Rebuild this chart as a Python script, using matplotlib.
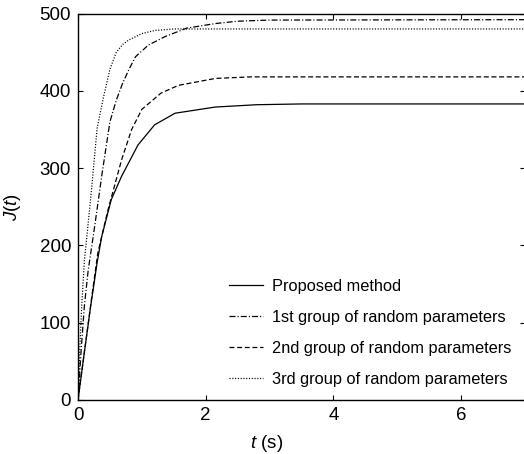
import matplotlib
matplotlib.use("Agg")
import matplotlib.pyplot as plt

# values
t_proposed = [0, 0.1, 0.2, 0.3, 0.37, 0.52, 0.68, 0.94, 1.2, 1.52, 2.15, 2.8, 3.5, 7.0]
j_proposed = [0, 62, 122, 178, 211, 259, 289, 330, 356, 371, 379, 382, 383, 383]

t_group1 = [0, 0.05, 0.1, 0.16, 0.26, 0.37, 0.5, 0.6, 0.7, 0.8, 0.9, 1.1, 1.36, 1.7, 2.15, 2.5, 3.0, 7.0]
j_group1 = [0, 65, 122, 168, 224, 289, 360, 388, 410, 428, 444, 459, 470, 481, 487, 490, 491.5, 492]

t_group2 = [0, 0.1, 0.2, 0.31, 0.47, 0.68, 0.84, 1.0, 1.3, 1.57, 2.15, 2.7, 3.5, 7.0]
j_group2 = [0, 62, 124, 190, 246, 310, 350, 376, 397, 407, 416, 418, 418, 418]

t_group3 = [0, 0.03, 0.06, 0.1, 0.2, 0.3, 0.4, 0.5, 0.6, 0.7, 0.8, 1.0, 1.2, 1.5, 2.0, 7.0]
j_group3 = [0, 70, 125, 180, 262, 352, 392, 428, 450, 460, 466, 474, 478, 480, 480, 480]

labels = [
    "Proposed method",
    "1st group of random parameters",
    "2nd group of random parameters",
    "3rd group of random parameters",
]

plt.rcParams["font.family"] = ["Liberation Sans", "DejaVu Sans"]
plt.rcParams["mathtext.fontset"] = "custom"
plt.rcParams["mathtext.it"] = "Liberation Sans:italic"
plt.rcParams["mathtext.rm"] = "Liberation Sans"
plt.rcParams["lines.scale_dashes"] = False

fig = plt.figure(figsize=(5.24, 4.54), dpi=100)
ax = fig.add_axes([78 / 524, 54 / 454, 447 / 524, 386.5 / 454])

lw = 0.9
ax.plot(t_proposed, j_proposed, color="black", lw=lw, label=labels[0])
ax.plot(t_group1, j_group1, color="black", lw=lw, dashes=(4.3, 1.5, 0.8, 1.5), label=labels[1])
ax.plot(t_group2, j_group2, color="black", lw=lw, dashes=(3.6, 1.9), label=labels[2])
ax.plot(t_group3, j_group3, color="black", lw=lw, dashes=(0.8, 1.2), label=labels[3])

ax.set_xlim(0, 7)
ax.set_ylim(0, 500)
ax.set_xticks([0, 2, 4, 6])
ax.set_yticks([0, 100, 200, 300, 400, 500])
ax.tick_params(direction="in", top=True, right=True, length=3.5, width=0.8,
               labelsize=13.5, pad=5)
for side in ax.spines.values():
    side.set_linewidth(1.0)

ax.set_xlabel("$t$ (s)", fontsize=13.5)
ax.xaxis.set_label_coords((267 - 78) / 447, -0.085)
ax.set_ylabel("$J$($t$)", fontsize=13.5)
ax.yaxis.set_label_coords(-0.123, 0.5)

ax.legend(loc="upper left", bbox_to_anchor=(229 / 524, 1 - 279 / 454),
          bbox_transform=fig.transFigure, frameon=False, fontsize=11.8,
          handlelength=2.1, handletextpad=0.55, labelspacing=0.98,
          borderpad=0, borderaxespad=0)

fig.savefig("out.png", dpi=100)
